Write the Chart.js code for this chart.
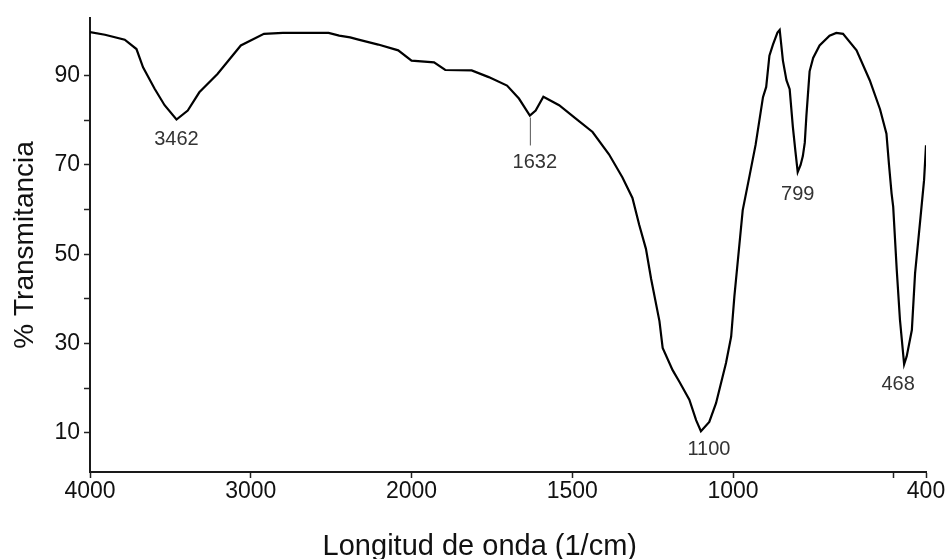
<!DOCTYPE html>
<html>
<head>
<meta charset="utf-8">
<script src="https://cdn.jsdelivr.net/npm/chart.js@4.4.0/dist/chart.umd.min.js"></script>
<style>
  html, body { margin: 0; padding: 0; background: #fff; }
  #wrap { width: 946px; height: 559px; }
</style>
</head>
<body>
<div id="wrap"><canvas id="ir-chart" width="946" height="559"></canvas></div>
<script>
// spectrum (wavenumber in 1/cm, % transmittance)
const WAVENUMBERS = [
  4000, 3907, 3784, 3711, 3670, 3598, 3536, 3462, 3392, 3320, 3207, 3062, 2918, 2800, 2691, 2516, 2450, 2382, 2330, 2207, 2083, 2000,
  1930, 1895, 1813, 1760, 1703, 1666, 1632, 1614, 1590, 1541, 1489, 1437, 1386, 1344, 1313, 1292, 1271, 1255, 1229, 1219, 1188, 1167, 1136, 1115, 1100,
  1074, 1053, 1022, 1006, 996, 985, 970, 949, 930, 907, 897, 887, 876, 862, 855,
  845, 834, 824, 814, 806, 799, 790, 783, 777, 772, 767, 762, 751, 731, 700, 679, 658, 616, 575, 543, 523, 515, 507, 502, 491, 481, 468,
  460, 444, 434, 418, 406, 400
]
const TRANSMITTANCE = [
  99.8, 99.2, 98.1, 96.0, 91.9, 87.1, 83.4, 80.2, 82.2, 86.3, 90.4, 96.8, 99.4, 99.6, 99.6, 99.6, 99.0, 98.6, 98.1, 97.0, 95.7, 93.4,
  93.0, 91.3, 91.2, 89.7, 87.8, 84.9, 81.1, 82.2, 85.3, 83.4, 80.4, 77.4, 72.4, 67.2, 62.6, 56.6, 51.2, 44.5, 35.0, 29.0, 24.0, 21.4, 17.4, 12.8, 10.3,
  12.4, 16.6, 25.6, 31.5, 40.5, 48.7, 59.9, 67.5, 74.5, 85.2, 87.5, 94.5, 97.0, 99.7, 100.3,
  93.4, 89.0, 87.0, 78.5, 73.0, 68.4, 70.0, 72.0, 75.0, 81.0, 86.0, 91.0, 94.0, 96.8, 99.0, 99.6, 99.4, 95.7, 89.0, 82.5, 77.0, 70.0, 63.6, 60.6, 46.5, 35.3, 25.3,
  27.1, 33.0, 45.7, 57.6, 66.6, 74.4
]

const X_TICKS = [4000, 3000, 2000, 1500, 1000, 500, 400]
const X_TICK_LABELS = ["4000", "3000", "2000", "1500", "1000", "", "400"]
const Y_TICKS = [10, 20, 30, 40, 50, 60, 70, 80, 90]
const Y_TICK_LABELS = ["10", "", "30", "", "50", "", "70", "", "90"]

const PEAKS = [3462, 1632, 1100, 799, 468]
const PEAK_LABELS = ["3462", "1632", "1100", "799", "468"]

const X_TITLE = "Longitud de onda (1/cm)"
const Y_TITLE = "% Transmitancia"

// below 2000 1/cm the spectrometer doubles the scale
const toAxis = (v) => v >= 2000 ? v : 2 * v - 2000

const FONT = "'Liberation Sans', Arial, sans-serif"
// small nudges so the peak numbers sit where the instrument printed them
const LABEL_DX = [0, 5, 8, 0, -6]
const LABEL_DY = [20, 47, 18, 22, 20]

const peakLabels = {
  id: 'peakLabels',
  afterDatasetsDraw(chart) {
    const {ctx, scales} = chart
    ctx.save()
    ctx.font = "20px " + FONT
    ctx.fillStyle = '#333'
    ctx.textAlign = 'center'
    ctx.textBaseline = 'middle'
    PEAKS.forEach((wn, i) => {
      const t = TRANSMITTANCE[WAVENUMBERS.indexOf(wn)]
      const px = scales.x.getPixelForValue(toAxis(wn))
      const py = scales.y.getPixelForValue(t)
      if (wn === 1632) {
        ctx.strokeStyle = '#555'
        ctx.lineWidth = 1
        ctx.beginPath()
        ctx.moveTo(px + 0.5, py + 2)
        ctx.lineTo(px + 0.5, py + 30)
        ctx.stroke()
      }
      ctx.fillText(PEAK_LABELS[i], px + LABEL_DX[i], py + LABEL_DY[i])
    })
    ctx.restore()
  }
}

const ctx = document.getElementById('ir-chart').getContext('2d')
new Chart(ctx, {
  type: 'line',
  data: {
    datasets: [{
      data: WAVENUMBERS.map((wn, i) => ({x: toAxis(wn), y: TRANSMITTANCE[i]})),
      borderColor: '#000',
      borderWidth: 2.2,
      pointRadius: 0,
      tension: 0,
      fill: false
    }]
  },
  options: {
    responsive: false,
    animation: false,
    layout: {padding: {top: 17, right: 20, bottom: 0, left: 0}},
    plugins: {legend: {display: false}, tooltip: {enabled: false}},
    scales: {
      x: {
        type: 'linear',
        reverse: true,
        min: toAxis(400),
        max: 4000,
        afterBuildTicks: (scale) => { scale.ticks = X_TICKS.map(v => ({value: toAxis(v)})) },
        afterFit: (scale) => { scale.height = 87 },
        ticks: {
          autoSkip: false,
          maxRotation: 0,
          padding: 0,
          color: '#111',
          font: {family: FONT, size: 23},
          callback: (value, index) => X_TICK_LABELS[index]
        },
        grid: {drawOnChartArea: false, drawTicks: true, tickLength: 6, tickColor: '#222', tickWidth: 1.5},
        border: {display: true, color: '#1a1a1a', width: 2},
        title: {
          display: true,
          // trailing spaces pull the centred title left, as in the original
          text: X_TITLE + "\u00a0\u00a0\u00a0\u00a0\u00a0\u00a0\u00a0",
          color: '#111',
          font: {family: FONT, size: 29, lineHeight: 0.86},
          padding: 0
        }
      },
      y: {
        min: 1.17,
        max: 103,
        afterBuildTicks: (scale) => { scale.ticks = Y_TICKS.map(v => ({value: v})) },
        afterFit: (scale) => { scale.width = 90 },
        ticks: {
          padding: 4,
          color: '#111',
          font: {family: FONT, size: 23},
          callback: (value, index) => Y_TICK_LABELS[index]
        },
        grid: {drawOnChartArea: false, drawTicks: true, tickLength: 6, tickColor: '#222', tickWidth: 1.5},
        border: {display: true, color: '#1a1a1a', width: 2},
        title: {
          display: true,
          text: Y_TITLE,
          color: '#111',
          font: {family: FONT, size: 28, lineHeight: 1.2},
          padding: {top: 8, bottom: 0}
        }
      }
    }
  },
  plugins: [peakLabels]
})
</script>
</body>
</html>
